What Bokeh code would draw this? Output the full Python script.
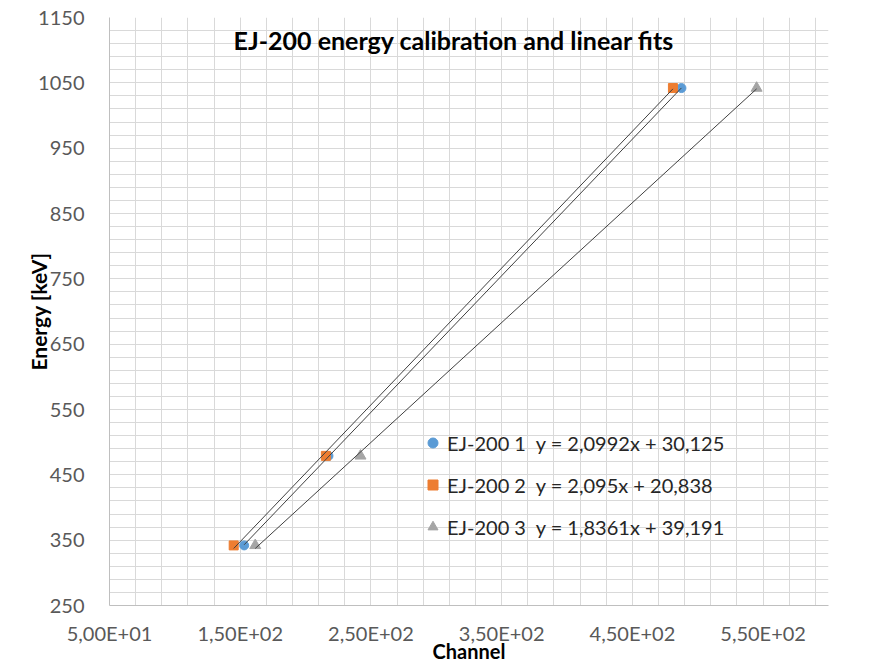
import numpy as np
from bokeh.plotting import figure
from bokeh.models import Range1d, FixedTicker, Legend, LegendItem, Label, BoxAnnotation
from bokeh.embed import file_html
from bokeh.resources import INLINE

# ---- data ----
series_names = ["EJ-200 1", "EJ-200 2", "EJ-200 3"]
fit_labels = ["y = 2,0992x + 30,125", "y = 2,095x + 20,838", "y = 1,8361x + 39,191"]
energy_kev = [342, 479, 1042]
channel_s1 = [153.0, 217.5, 487.5]
channel_s2 = [145.0, 215.5, 481.0]
channel_s3 = [161.5, 242.0, 545.0]
x_tick_values = [50, 150, 250, 350, 450, 550]
x_tick_labels = ["5,00E+01", "1,50E+02", "2,50E+02", "3,50E+02", "4,50E+02", "5,50E+02"]
y_tick_values = [250, 350, 450, 550, 650, 750, 850, 950, 1050, 1150]

FONT = "Lato"
W, H = 879, 668

p = figure(width=W, height=H,
           x_range=Range1d(50, 600), y_range=Range1d(250, 1150),
           output_backend="svg", toolbar_location=None,
           min_border_left=109, min_border_right=51,
           min_border_top=17, min_border_bottom=63,
           background_fill_color="white", border_fill_color="white")
p.outline_line_color = None

# light chart-area border (left and top edges visible in the reference)
chart_border = BoxAnnotation(left=22, right=W + 50, top=H - 4, bottom=-50,
                             left_units="canvas", right_units="canvas",
                             top_units="canvas", bottom_units="canvas",
                             fill_color=None, line_color="#d9d9d9", line_width=1.5,
                             level="underlay")
p.add_layout(chart_border)

xt = FixedTicker(ticks=x_tick_values, minor_ticks=list(range(50, 600, 20)))
yt = FixedTicker(ticks=y_tick_values, minor_ticks=list(range(250, 1151, 20)))
p.xaxis.ticker = xt
p.yaxis.ticker = yt
p.xgrid.ticker = xt
p.ygrid.ticker = yt
p.xaxis.major_label_overrides = dict(zip(x_tick_values, x_tick_labels))

for g in (p.xgrid, p.ygrid):
    g.grid_line_color = "#d9d9d9"
    g.minor_grid_line_color = "#d9d9d9"
    g.grid_line_width = 1
    g.minor_grid_line_width = 1

for ax in (p.xaxis, p.yaxis):
    ax.axis_line_color = "#bfbfbf"
    ax.major_tick_line_color = None
    ax.minor_tick_line_color = None
    ax.major_label_text_font = FONT
    ax.major_label_text_font_size = "20px"
    ax.major_label_text_color = "#595959"
    ax.axis_label_text_font = FONT
    ax.axis_label_text_font_style = "bold"
    ax.axis_label_text_color = "#000000"

p.xaxis.axis_label_text_font_size = "20px"
p.yaxis.axis_label_text_font_size = "21px"
p.xaxis.major_label_standoff = 9
p.yaxis.major_label_standoff = 19
p.xaxis.axis_label_standoff = -9
p.yaxis.axis_label_standoff = -16
p.xaxis.axis_label = "Channel"
p.yaxis.axis_label = "Energy [keV]"

r1 = p.scatter(channel_s1, energy_kev, marker="circle", size=9,
               fill_color="#5B9BD5", line_color="#5B9BD5")
r2 = p.scatter(channel_s2, energy_kev, marker="square", size=9,
               fill_color="#ED7D31", line_color="#ED7D31")
r3 = p.scatter(channel_s3, energy_kev, marker="triangle", size=11,
               fill_color="#A5A5A5", line_color="#A5A5A5")

# linear trendlines fitted to each series, spanning its channel range
for xs in (channel_s1, channel_s2, channel_s3):
    k, b = np.polyfit(xs, energy_kev, 1)
    xl = [min(xs), max(xs)]
    p.line(xl, [k * v + b for v in xl], line_color="#404040", line_width=1)

sep = "\u00a0\u00a0"
items = [LegendItem(label=f"{n}{sep}{f}", renderers=[r])
         for n, f, r in zip(series_names, fit_labels, (r1, r2, r3))]
legend = Legend(items=items, location=(311, 66), orientation="vertical",
                glyph_width=25, glyph_height=25, label_height=25,
                label_standoff=2, spacing=17, padding=0, margin=0,
                background_fill_alpha=0, border_line_color=None,
                label_text_font=FONT, label_text_font_size="20px",
                label_text_color="#262626")
p.add_layout(legend)

title = Label(x=313.5, y=1116, text="EJ-200 energy calibration and linear fits",
              text_font=FONT, text_font_style="bold", text_font_size="25px",
              text_align="center", text_baseline="middle", text_color="#000000")
p.add_layout(title)

open("out.html", "w").write(file_html(p, INLINE))
